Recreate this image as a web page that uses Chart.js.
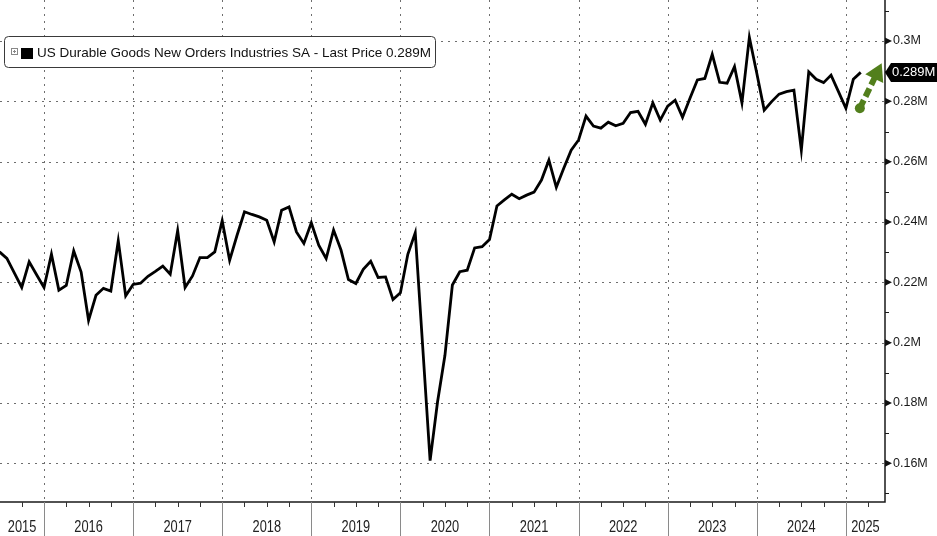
<!DOCTYPE html>
<html>
<head>
<meta charset="utf-8">
<script src="https://cdn.jsdelivr.net/npm/chart.js@4.4.1/dist/chart.umd.min.js"></script>
<style>
  html, body { margin: 0; padding: 0; background: #fff; overflow: hidden; }
  #wrap { position: relative; width: 937px; height: 536px; }
</style>
</head>
<body>
<div id="wrap"><canvas id="durableChart" width="937" height="536"></canvas></div>
<script>
// monthly series, first value is June 2015 (thousands of M)
var firstMonth = [2015, 6];
var values = [
  230.1, 227.9, 223.1, 218.3, 226.8, 222.5, 218.3,
  229.3, 217.4, 219.0, 230.4, 223.4, 207.4, 215.7, 218.0, 217.1, 233.8, 215.5, 219.3,
  219.7, 222.0, 223.6, 225.4, 222.7, 237.1, 218.3, 222.1, 228.2, 228.2, 230.1, 240.4,
  227.3, 235.6, 243.4, 242.5, 241.7, 240.6, 233.4, 243.9, 245.0, 236.7, 232.9, 239.7,
  232.3, 227.9, 237.3, 230.7, 220.9, 219.6, 224.3, 227.0, 221.6, 221.8, 214.3, 216.5,
  229.3, 236.4, 198.8, 160.9, 180.3, 195.8, 219.1, 223.5, 224.0, 231.4, 231.8, 234.2,
  245.3, 247.3, 249.2, 247.7, 248.9, 249.9, 253.9, 260.5, 251.5, 257.8, 263.8, 267.2,
  275.1, 271.8, 271.1, 273.1, 271.9, 272.7, 276.3, 276.7, 272.4, 279.5, 273.8, 278.4,
  280.4, 274.7, 281.0, 287.1, 287.6, 295.6, 286.3, 286.0, 291.5, 279.5, 301.2, 289.3,
  277.1, 279.9, 282.4, 283.2, 283.7, 263.8, 289.8, 287.3, 286.2, 288.7, 283.2, 277.7,
  287.3, 289.6
];
var yearLabels = ['2015', '2016', '2017', '2018', '2019', '2020', '2021', '2022', '2023', '2024', '2025'];
var yTicks = [0.16, 0.18, 0.2, 0.22, 0.24, 0.26, 0.28, 0.3];
var yMinorTicks = [0.15, 0.17, 0.19, 0.21, 0.23, 0.25, 0.27, 0.29, 0.31];
var seriesName = 'US Durable Goods New Orders Industries SA';
var lastPrice = '0.289M';
// dashed trend arrow (start value, end value)
var arrowFrom = 0.2777;
var arrowTo = 0.2926;

var points = values.map(function(v, i) {
    var m = firstMonth[1] + i;
    // month-end position: December sits on the next year boundary
    return { x: firstMonth[0] + m / 12, y: v / 1000 };
});

var decor = {
    id: 'decor',
    beforeDatasetsDraw: function(chart) {
        var ctx = chart.ctx, a = chart.chartArea;
        var xs = chart.scales.x, ys = chart.scales.y;
        ctx.save();
        ctx.strokeStyle = '#6e6e6e';
        ctx.lineWidth = 1;
        ctx.setLineDash([2, 5]);
        yTicks.forEach(function(v) {
            var y = Math.round(ys.getPixelForValue(v)) + 0.5;
            ctx.beginPath(); ctx.moveTo(a.left, y); ctx.lineTo(a.right, y); ctx.stroke();
        });
        yearLabels.forEach(function(lbl) {
            var yr = +lbl;
            if (yr <= xs.min || yr >= xs.max) return;
            var x = Math.round(xs.getPixelForValue(yr)) + 0.5;
            ctx.beginPath(); ctx.moveTo(x, a.top); ctx.lineTo(x, a.bottom); ctx.stroke();
        });
        ctx.restore();
    },
    afterDraw: function(chart) {
        var ctx = chart.ctx, a = chart.chartArea;
        var xs = chart.scales.x, ys = chart.scales.y;
        var H = chart.height;
        ctx.save();

        // axis lines
        ctx.strokeStyle = '#1a1a1a';
        ctx.lineWidth = 1.5;
        ctx.beginPath();
        ctx.moveTo(a.left, a.bottom); ctx.lineTo(a.right, a.bottom); ctx.lineTo(a.right, a.top);
        ctx.stroke();

        // right axis markers and minor ticks
        ctx.fillStyle = '#111';
        yTicks.forEach(function(v) {
            var y = ys.getPixelForValue(v);
            ctx.beginPath();
            ctx.moveTo(a.right, y - 3.5); ctx.lineTo(a.right + 7, y); ctx.lineTo(a.right, y + 3.5);
            ctx.closePath(); ctx.fill();
        });
        ctx.lineWidth = 1;
        yMinorTicks.forEach(function(v) {
            var y = Math.round(ys.getPixelForValue(v)) + 0.5;
            ctx.beginPath(); ctx.moveTo(a.right, y); ctx.lineTo(a.right + 4, y); ctx.stroke();
        });

        // quarter ticks under the x axis
        ctx.strokeStyle = '#333';
        for (var q = Math.ceil(xs.min * 4); q / 4 < xs.max; q++) {
            if (q % 4 === 0) continue;
            var xq = Math.round(xs.getPixelForValue(q / 4)) + 0.5;
            ctx.beginPath(); ctx.moveTo(xq, a.bottom); ctx.lineTo(xq, a.bottom + 5); ctx.stroke();
        }

        // year separators and labels (narrow face)
        ctx.textAlign = 'center';
        ctx.textBaseline = 'middle';
        yearLabels.forEach(function(lbl) {
            var yr = +lbl;
            if (yr > xs.min && yr < xs.max) {
                var xb = Math.round(xs.getPixelForValue(yr)) + 0.5;
                ctx.strokeStyle = '#8a8a8a';
                ctx.beginPath(); ctx.moveTo(xb, a.bottom); ctx.lineTo(xb, H); ctx.stroke();
            }
            var l = Math.max(xs.getPixelForValue(yr), a.left);
            var r = Math.min(xs.getPixelForValue(yr + 1), a.right);
            ctx.save();
            ctx.translate((l + r) / 2, a.bottom + 26);
            ctx.scale(0.8, 1);
            ctx.font = '16px "Liberation Sans", Arial, sans-serif';
            ctx.fillStyle = '#222';
            ctx.fillText(lbl, 0, 0);
            ctx.restore();
        });

        // trend arrow from the last point
        var last = points[points.length - 1];
        var x0 = xs.getPixelForValue(last.x - 0.01), y0 = ys.getPixelForValue(arrowFrom);
        var x1 = xs.getPixelForValue(last.x + 0.235), y1 = ys.getPixelForValue(arrowTo);
        var dx = x1 - x0, dy = y1 - y0, len = Math.sqrt(dx * dx + dy * dy);
        var ux = dx / len, uy = dy / len, head = 17, hw = 10;
        var bx = x1 - ux * head, by = y1 - uy * head;
        ctx.strokeStyle = '#527f1c';
        ctx.fillStyle = '#527f1c';
        ctx.lineWidth = 6;
        ctx.setLineDash([9, 4]);
        ctx.beginPath(); ctx.moveTo(x0, y0); ctx.lineTo(bx + ux, by + uy); ctx.stroke();
        ctx.setLineDash([]);
        ctx.beginPath(); ctx.arc(x0, y0, 5, 0, Math.PI * 2); ctx.fill();
        ctx.beginPath();
        ctx.moveTo(x1, y1);
        ctx.lineTo(bx - uy * hw, by + ux * hw);
        ctx.lineTo(bx + uy * hw, by - ux * hw);
        ctx.closePath(); ctx.fill();

        // last price tag
        var ty = ys.getPixelForValue(last.y);
        ctx.fillStyle = '#000';
        ctx.beginPath();
        ctx.moveTo(a.right, ty);
        ctx.lineTo(a.right + 6, ty - 9.5);
        ctx.lineTo(chart.width, ty - 9.5);
        ctx.lineTo(chart.width, ty + 9.5);
        ctx.lineTo(a.right + 6, ty + 9.5);
        ctx.closePath(); ctx.fill();
        ctx.fillStyle = '#fff';
        ctx.font = '13px "Liberation Sans", Arial, sans-serif';
        ctx.textAlign = 'left';
        ctx.fillText(lastPrice, a.right + 7, ty + 0.5);

        // legend box
        var lx = 4.5, ly = 36.5, lw = 431, lh = 31, rr = 4;
        ctx.fillStyle = '#fff';
        ctx.strokeStyle = '#3a3a3a';
        ctx.lineWidth = 1;
        ctx.beginPath();
        ctx.moveTo(lx + rr, ly);
        ctx.arcTo(lx + lw, ly, lx + lw, ly + lh, rr);
        ctx.arcTo(lx + lw, ly + lh, lx, ly + lh, rr);
        ctx.arcTo(lx, ly + lh, lx, ly, rr);
        ctx.arcTo(lx, ly, lx + lw, ly, rr);
        ctx.closePath(); ctx.fill(); ctx.stroke();
        ctx.strokeStyle = '#888';
        ctx.strokeRect(11.5, 48.5, 6, 6);
        ctx.beginPath();
        ctx.moveTo(13, 51.5); ctx.lineTo(16, 51.5);
        ctx.moveTo(14.5, 50); ctx.lineTo(14.5, 53);
        ctx.stroke();
        ctx.fillStyle = '#000';
        ctx.fillRect(21, 48, 12, 11);
        ctx.fillStyle = '#111';
        ctx.font = '13.5px "Liberation Sans", Arial, sans-serif';
        ctx.textBaseline = 'middle';
        ctx.fillText(seriesName + ' - Last Price ' + lastPrice, 37, 53);
        ctx.restore();
    }
};

var chart = new Chart(document.getElementById('durableChart').getContext('2d'), {
    type: 'line',
    data: {
        datasets: [{
            label: seriesName,
            data: points,
            borderColor: '#000',
            borderWidth: 2.8,
            pointRadius: 0,
            tension: 0,
            fill: false
        }]
    },
    options: {
        responsive: false,
        animation: false,
        devicePixelRatio: 1,
        layout: { padding: { left: 0, top: 0, right: 0, bottom: 34 } },
        plugins: { legend: { display: false }, tooltip: { enabled: false } },
        scales: {
            x: { type: 'linear', min: 2015.506, max: 2025.439, display: false },
            y: {
                position: 'right',
                min: 0.14716,
                max: 0.3136,
                grid: { display: false, drawTicks: false },
                border: { display: false },
                afterBuildTicks: function(axis) {
                    axis.ticks = yTicks.map(function(v) { return { value: v }; });
                },
                afterFit: function(axis) {
                    axis.width = 52;
                    axis.paddingTop = 0;
                    axis.paddingBottom = 0;
                },
                ticks: {
                    padding: 8,
                    color: '#1a1a1a',
                    font: { family: '"Liberation Sans", Arial, sans-serif', size: 12.5 },
                    callback: function(v) { return v + 'M'; }
                }
            }
        }
    },
    plugins: [decor]
});
</script>
</body>
</html>
